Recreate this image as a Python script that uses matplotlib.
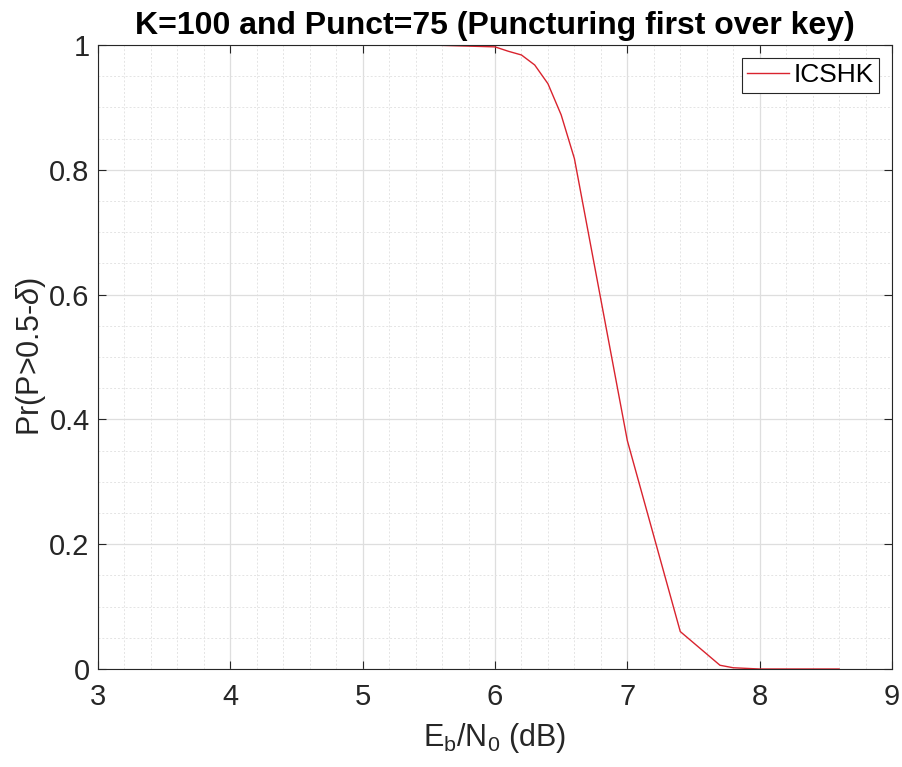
import matplotlib
matplotlib.use("Agg")
import matplotlib.pyplot as plt
from matplotlib.ticker import MultipleLocator

plt.rcParams['font.family'] = ['Liberation Sans', 'DejaVu Sans']
plt.rcParams['mathtext.fontset'] = 'custom'
plt.rcParams['mathtext.rm'] = 'Liberation Sans'
plt.rcParams['mathtext.it'] = 'Liberation Sans:italic'

title = "K=100 and Punct=75 (Puncturing first over key)"
series_name = "ICSHK"
ebn0 = [5.0, 5.5, 6.0, 6.1, 6.2, 6.3, 6.4, 6.5, 6.6, 7.0, 7.4, 7.7, 7.8, 8.0, 8.6]
prob = [1.0, 1.0, 0.997, 0.99, 0.984, 0.968, 0.938, 0.888, 0.818, 0.366, 0.06, 0.006, 0.002, 0.0, 0.0]
xticks = [3, 4, 5, 6, 7, 8, 9]
yticks = [0, 0.2, 0.4, 0.6, 0.8, 1.0]
ytick_labels = ["0", "0.2", "0.4", "0.6", "0.8", "1"]

fig = plt.figure(figsize=(9.03, 7.67), dpi=100)
ax = fig.add_axes([98/903, 1-669/767, (892-98)/903, (669-45)/767])

ax.plot(ebn0, prob, color='#d9232e', lw=1.0, label=series_name)
ax.set_xlim(3, 9)
ax.set_ylim(0, 1)
ax.set_xticks(xticks)
ax.set_yticks(yticks)
ax.set_yticklabels(ytick_labels)
ax.xaxis.set_minor_locator(MultipleLocator(0.2))
ax.yaxis.set_minor_locator(MultipleLocator(0.05))
ax.grid(which='major', color='#dedede', lw=0.9, ls='-')
ax.grid(which='minor', color='#e4e4e4', lw=0.7, ls=(0, (2, 2)))
ax.set_axisbelow(True)
ax.tick_params(which='both', direction='in', top=True, right=True, labelsize=21, colors='#262626')
ax.tick_params(which='major', length=6, width=0.8)
ax.tick_params(which='minor', length=0)
ax.tick_params(axis='x', pad=10)
ax.tick_params(axis='y', pad=6)
for s in ax.spines.values():
    s.set_color('#262626')
    s.set_linewidth(0.8)

ax.set_title(title, fontsize=23, fontweight='bold', pad=8)
ax.set_xlabel(r"$\mathregular{E_b/N_0}$ (dB)", fontsize=22, color='#262626', labelpad=7)
ax.set_ylabel(r"Pr(P>0.5-$\delta$)", fontsize=22, color='#262626', labelpad=1)

leg = ax.legend(loc='upper right', fontsize=19, frameon=True, fancybox=False,
                edgecolor='#262626', framealpha=1, handlelength=1.6, handletextpad=0.15,
                borderaxespad=0.5, borderpad=0.2)
leg.get_frame().set_linewidth(0.8)

fig.savefig("out.png", dpi=100, facecolor='white')
